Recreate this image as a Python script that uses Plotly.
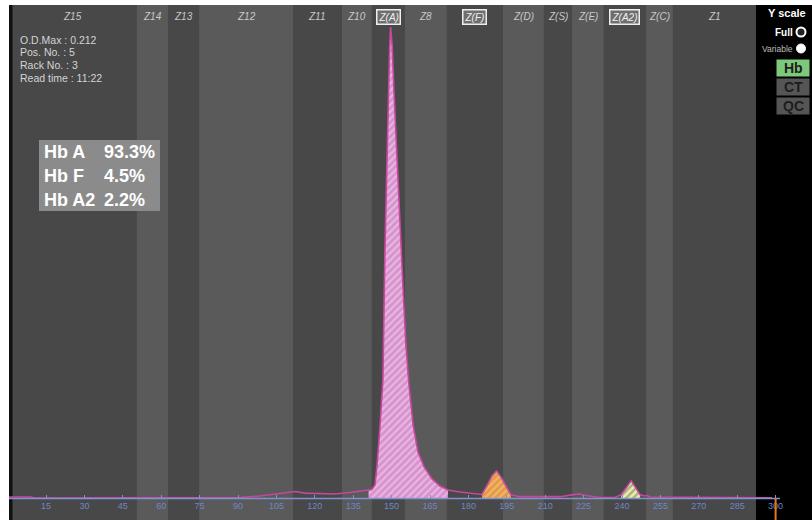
import plotly.graph_objects as go

W, H = 812, 520
ML, MT = 9, 5

# ---- electropherogram (migration position, optical density x1000) ----
mig = [0, 8.8, 10.7, 36, 75, 90.8, 98.6, 106.4, 112.3, 116.2, 122, 127.9, 133.8,
       137.7, 141.0, 142.3, 143.5, 144.3, 145.5, 146.6, 147.4, 148.4, 149.2, 149.6,
       150.2, 150.9, 152.1, 153.3, 154.5, 155.6, 156.8, 158.4, 160.3, 162.7, 165.8,
       168.9, 172.0, 176.7, 182.6, 185.3, 187.6, 189.2, 191.0, 192.7, 194.7, 196.6,
       200.2, 215.8, 220.4, 223.2, 226.0, 231.3, 237.2, 239.6, 241.6, 243.6, 245.1,
       247.1, 248.7, 249.8, 251.0, 270.5, 298.6]
od = [0.45, 0.45, 0.0, 0.0, 0.0, 0.2, 0.9, 2.0, 2.9, 2.2, 2.0, 1.8, 2.5,
      3.2, 3.6, 3.8, 5.9, 14.4, 32.9, 53.0, 111.6, 170.0, 201.6, 212.0,
      203.9, 183.6, 152.1, 120.6, 93.6, 68.9, 50.9, 32.9, 20.7, 14.0, 8.6,
      5.4, 3.6, 2.7, 2.0, 1.6, 6.3, 9.9, 12.2, 9.5, 5.4, 1.4,
      0.6, 0.6, 1.4, 1.8, 1.1, 0.2, 0.2, 1.4, 4.5, 7.7, 5.0,
      1.4, 0.9, 1.1, 0.45, 0.2, 0.1]

zone_names = ["Z15", "Z14", "Z13", "Z12", "Z11", "Z10", "Z(A)", "Z8", "Z(F)",
              "Z(D)", "Z(S)", "Z(E)", "Z(A2)", "Z(C)", "Z1"]
zone_edges = [0.5, 50.5, 62.7, 74.8, 111.5, 130.6, 142.3, 155.2, 171.6, 193.5,
              209.5, 220.5, 232.9, 249.4, 259.9, 292.3]
boxed_zones = ["Z(A)", "Z(F)", "Z(A2)"]

fractions = ["Hb A", "Hb F", "Hb A2"]
percents = ["93.3%", "4.5%", "2.2%"]
peak_ranges = [(141.0, 172.0), (185.3, 196.6), (239.6, 247.1)]

tick_vals = [15, 30, 45, 60, 75, 90, 105, 120, 135, 150, 165, 180, 195, 210,
             225, 240, 255, 270, 285, 300]
end_mark = 300
axis_end = 301.7

info_lines = ["O.D.Max : 0.212", "Pos. No. : 5", "Rack No. : 3", "Read time : 11:22"]
buttons = ["Hb", "CT", "QC"]

# ---- helpers: pixel -> paper fraction ----
def fx(px):
    return (px - ML) / (W - ML)

def fy(py):
    return (H - py) / (H - MT)

AXIS_POS = fy(498.5)

fig = go.Figure()

# peak fills
fill_styles = [
    dict(bg="#d792cd", fg="#f7dcf3"),
    dict(bg="#e39a45", fg="#f8d294"),
    dict(bg="#e6ecae", fg="#6d6d4c"),
]
for (lo, hi), st in zip(peak_ranges, fill_styles):
    xs = [m for m in mig if lo <= m <= hi]
    ys = [v for m, v in zip(mig, od) if lo <= m <= hi]
    fig.add_trace(go.Scatter(
        x=xs, y=ys, mode="lines", fill="tozeroy", line=dict(width=0, color=st["bg"]),
        fillcolor=st["bg"],
        fillpattern=dict(shape="/", bgcolor=st["bg"], fgcolor=st["fg"], size=5, solidity=0.45),
        hoverinfo="skip", showlegend=False))

# electropherogram line
fig.add_trace(go.Scatter(x=mig, y=od, mode="lines",
                         line=dict(color="#c8479f", width=1.6),
                         showlegend=False, hoverinfo="skip"))

shapes = []
# zone bands
dark, light = "#484848", "#5a5a5a"
for i in range(len(zone_names)):
    shapes.append(dict(type="rect", xref="x", yref="paper",
                       x0=zone_edges[i], x1=zone_edges[i + 1], y0=0, y1=1,
                       fillcolor=dark if i % 2 == 0 else light,
                       line=dict(width=0), layer="below"))
# left black strip
shapes.append(dict(type="rect", xref="paper", yref="paper", x0=0, x1=fx(12.5),
                   y0=0, y1=1, fillcolor="#111111", line=dict(width=0), layer="below"))
# right black panel
shapes.append(dict(type="rect", xref="paper", yref="paper", x0=fx(756), x1=1,
                   y0=0, y1=1, fillcolor="#000000", line=dict(width=0), layer="below"))
# axis line
shapes.append(dict(type="line", xref="x", yref="paper", x0=0, x1=axis_end,
                   y0=AXIS_POS, y1=AXIS_POS, line=dict(color="#8192d2", width=1.6)))
# orange end marker
shapes.append(dict(type="line", xref="x", yref="paper", x0=end_mark, x1=end_mark,
                   y0=0, y1=AXIS_POS, line=dict(color="#e8761c", width=2)))
# results box
shapes.append(dict(type="rect", xref="paper", yref="paper", x0=fx(39), x1=fx(160),
                   y0=fy(211), y1=fy(140), fillcolor="#8b8b8b", line=dict(width=0)))
# radio buttons
shapes.append(dict(type="circle", xref="paper", yref="paper", x0=fx(796.5), x1=fx(805.5),
                   y0=fy(36.5), y1=fy(27.5), fillcolor="#222222",
                   line=dict(color="#ffffff", width=2)))
shapes.append(dict(type="circle", xref="paper", yref="paper", x0=fx(796.5), x1=fx(805.5),
                   y0=fy(53), y1=fy(44), fillcolor="#ffffff",
                   line=dict(color="#ffffff", width=1)))
# side buttons
btn_tops = [59, 78, 97]
btn_colors = ["#7cc97c", "#555555", "#555555"]
for top, c in zip(btn_tops, btn_colors):
    shapes.append(dict(type="rect", xref="paper", yref="paper", x0=fx(776), x1=fx(810),
                       y0=fy(top + 18), y1=fy(top), fillcolor=c,
                       line=dict(color="#000000", width=1)))

annotations = []
# zone labels
for i, name in enumerate(zone_names):
    cx = (zone_edges[i] + zone_edges[i + 1]) / 2
    is_box = name in boxed_zones
    annotations.append(dict(
        x=cx, y=fy(17), xref="x", yref="paper", text="<i>" + name + "</i>",
        showarrow=False, font=dict(family="Liberation Sans", size=10,
                                   color="#f0f0f0" if is_box else "#c9c9c9"),
        bgcolor="#6e6e6e" if is_box else None,
        bordercolor="#eeeeee" if is_box else None,
        borderwidth=1.5 if is_box else 0, borderpad=1,
        xanchor="center", yanchor="middle"))
# info lines
for j, line in enumerate(info_lines):
    annotations.append(dict(x=fx(18), y=fy(40 + j * 12.5), xref="paper", yref="paper",
                            text=line, showarrow=False, xanchor="left", yanchor="middle",
                            font=dict(family="Liberation Sans", size=10.5, color="#d4d4d4")))
# results
for j, (n, p) in enumerate(zip(fractions, percents)):
    yy = fy(152 + j * 24)
    annotations.append(dict(x=fx(42), y=yy, xref="paper", yref="paper", text="<b>" + n + "</b>",
                            showarrow=False, xanchor="left", yanchor="middle",
                            font=dict(family="Liberation Sans", size=18, color="#ffffff")))
    annotations.append(dict(x=fx(102), y=yy, xref="paper", yref="paper", text="<b>" + p + "</b>",
                            showarrow=False, xanchor="left", yanchor="middle",
                            font=dict(family="Liberation Sans", size=18, color="#ffffff")))
# right panel texts
annotations.append(dict(x=fx(808), y=fy(13), xref="paper", yref="paper", text="<b>Y scale</b>",
                        showarrow=False, xanchor="right", yanchor="middle",
                        font=dict(family="Liberation Sans", size=11, color="#ffffff")))
annotations.append(dict(x=fx(795), y=fy(32), xref="paper", yref="paper", text="<b>Full</b>",
                        showarrow=False, xanchor="right", yanchor="middle",
                        font=dict(family="Liberation Sans", size=10, color="#ffffff")))
annotations.append(dict(x=fx(795), y=fy(48.5), xref="paper", yref="paper", text="Variable",
                        showarrow=False, xanchor="right", yanchor="middle",
                        font=dict(family="Liberation Sans", size=8.5, color="#bdbdbd")))
for top, b in zip(btn_tops, buttons):
    annotations.append(dict(x=fx(793), y=fy(top + 9), xref="paper", yref="paper",
                            text="<b>" + b + "</b>", showarrow=False,
                            xanchor="center", yanchor="middle",
                            font=dict(family="Liberation Sans", size=14, color="#1d1d1d")))

fig.update_layout(
    width=W, height=H, margin=dict(l=ML, r=0, t=MT, b=0, pad=0),
    paper_bgcolor="#ffffff", plot_bgcolor="#484848",
    shapes=shapes, annotations=annotations, showlegend=False,
    xaxis=dict(range=[(ML - 7.6) / 2.56, (W - 7.6) / 2.56], anchor="free", position=AXIS_POS,
               tickvals=tick_vals, ticks="inside", ticklen=4, tickwidth=1,
               tickcolor="#8192d2", showline=False, showgrid=False, zeroline=False,
               tickfont=dict(family="Liberation Sans", size=9, color="#6f86c6"),
               automargin=False, fixedrange=True),
    yaxis=dict(range=[-9.9, 221.9], domain=[0, 1], visible=False, showgrid=False,
               zeroline=False, automargin=False, fixedrange=True),
)

fig.write_html("out.html",
               post_script="document.body.style.margin='0';document.body.style.overflow='hidden';",
               config={"displayModeBar": False})
